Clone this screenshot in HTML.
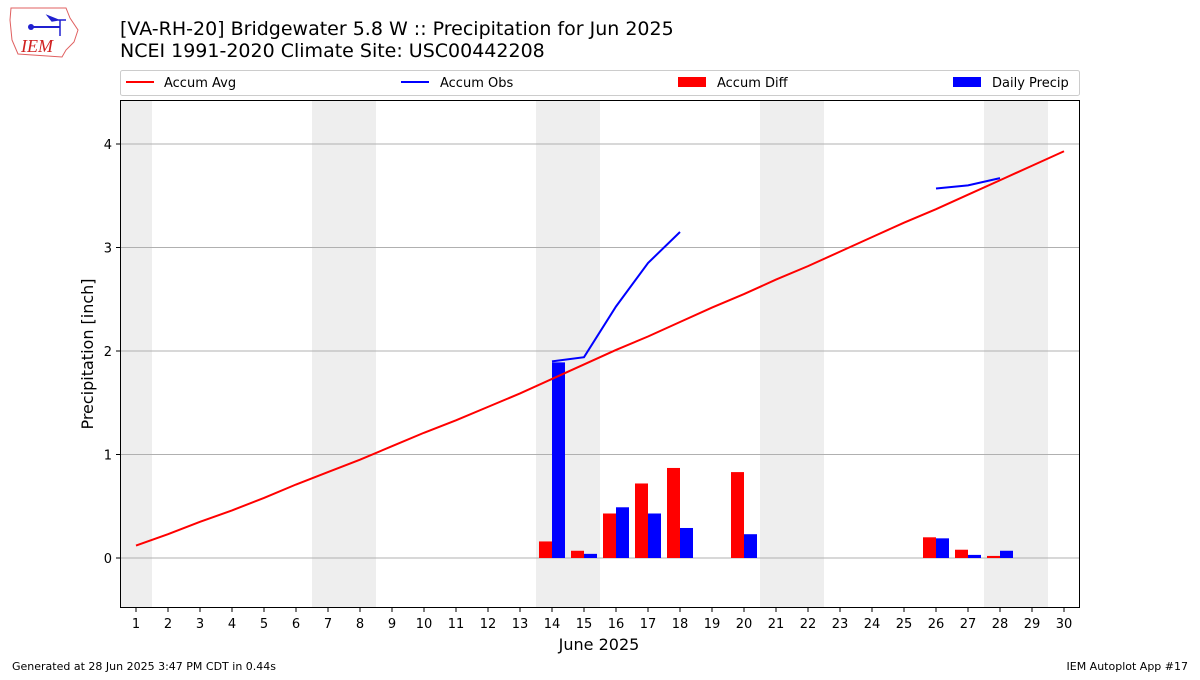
<!DOCTYPE html>
<html><head><meta charset="utf-8"><style>
body{margin:0;background:#fff;font-family:"Liberation Sans","DejaVu Sans",sans-serif;}
svg text{font-family:"DejaVu Sans","Liberation Sans",sans-serif;}
</style></head><body>
<svg id="c" width="1200" height="675" viewBox="0 0 1200 675" xmlns="http://www.w3.org/2000/svg">
<g>
<path d="M11,8 L66,8 L70,18 L78,30 L74,42 L66,50 L62,57 L18,54 L12,40 L10,20 Z" fill="none" stroke="#e06060" stroke-width="1"/>
<line x1="30" y1="27" x2="60" y2="27" stroke="#2020d0" stroke-width="2"/>
<circle cx="31" cy="27" r="3" fill="#2020d0"/>
<path d="M48,16 L58,20 L52,21 Z M58,20 L66,20 M60,20 L60,36" stroke="#2020d0" fill="#2020d0" stroke-width="1.5"/>
<text x="21" y="52" style="font-family:'Liberation Serif',serif;font-style:italic" font-size="18" fill="#d02020">IEM</text>
</g>
<text x="120" y="35" font-size="19" fill="#000">[VA-RH-20] Bridgewater 5.8 W :: Precipitation for Jun 2025</text>
<text x="120" y="57" font-size="19" fill="#000">NCEI 1991-2020 Climate Site: USC00442208</text>
<g>
<rect x="120.5" y="70.5" width="959" height="25" fill="#fff" stroke="#ccc" rx="2"/>
<g><line x1="126" y1="82" x2="154" y2="82" stroke="red" stroke-width="2"/><text x="164" y="87" font-size="13">Accum Avg</text></g>
<g><line x1="401" y1="82" x2="429" y2="82" stroke="blue" stroke-width="2"/><text x="440" y="87" font-size="13">Accum Obs</text></g>
<g><rect x="678" y="77" width="28" height="10" fill="red"/><text x="717" y="87" font-size="13">Accum Diff</text></g>
<g><rect x="953" y="77" width="28" height="10" fill="blue"/><text x="992" y="87" font-size="13">Daily Precip</text></g>
</g>
<g id="plot"></g>
<text x="599" y="650" font-size="16" text-anchor="middle">June 2025</text>
<text transform="translate(93,354) rotate(-90)" font-size="16" text-anchor="middle">Precipitation [inch]</text>
<text x="12" y="670" font-size="11">Generated at 28 Jun 2025 3:47 PM CDT in 0.44s</text>
<text x="1188" y="670" font-size="11" text-anchor="end">IEM Autoplot App #17</text>
</svg>
<script>
const days = Array.from({length:30},(_,i)=>i+1);
const weekendDays = [1,7,8,14,15,21,22,28,29];
const accumAvg = [0.12,0.23,0.35,0.46,0.58,0.71,0.83,0.95,1.08,1.21,1.33,1.46,1.59,1.73,1.87,2.01,2.14,2.28,2.42,2.55,2.69,2.82,2.96,3.10,3.24,3.37,3.51,3.65,3.79,3.93];
const obsSeg1Days = [14,15,16,17,18];
const obsSeg1 = [1.90,1.94,2.43,2.85,3.15];
const obsSeg2Days = [26,27,28];
const obsSeg2 = [3.57,3.60,3.67];
const barDays = [14,15,16,17,18,20,26,27,28];
const dailyPrecip = [1.89,0.04,0.49,0.43,0.29,0.23,0.19,0.03,0.07];
const accumDiff = [0.16,0.07,0.43,0.72,0.87,0.83,0.20,0.08,0.02];
const yTicks = [0,1,2,3,4];

const NS="http://www.w3.org/2000/svg";
const L=120,R=1080,T=100,B=608;
const xs=d=>136+(d-1)*32;
const ys=v=>558-v*103.5;
const g=document.getElementById('plot');
function mk(tag,attrs,parent){const e=document.createElementNS(NS,tag);for(const k in attrs)e.setAttribute(k,attrs[k]);(parent||g).appendChild(e);return e;}

weekendDays.forEach(d=>{
  const x0=Math.max(L,xs(d)-16), x1=Math.min(R,xs(d)+16);
  const r=mk('rect',{x:x0,y:T,width:x1-x0,height:B-T,fill:'#eeeeee'});
  
  
});
yTicks.forEach(v=>{
  const l=mk('line',{x1:L,x2:R,y1:ys(v),y2:ys(v),stroke:'#b0b0b0','stroke-width':1});
  
  
  mk('line',{x1:L-4,x2:L,y1:ys(v),y2:ys(v),stroke:'#000'});
  const t=mk('text',{x:L-8,y:ys(v)+5,'font-size':13,'text-anchor':'end'});
  t.textContent=v;
  
  
});
days.forEach(d=>{
  mk('line',{x1:xs(d),x2:xs(d),y1:B,y2:B+4,stroke:'#000'});
  const t=mk('text',{x:xs(d),y:B+20,'font-size':13,'text-anchor':'middle'});
  t.textContent=d;
  
  
});
barDays.forEach((d,i)=>{
  const a=accumDiff[i], p=dailyPrecip[i];
  const r1=mk('rect',{x:xs(d)-13,y:Math.min(ys(a),ys(0)),width:13,height:Math.abs(ys(a)-ys(0)),fill:'red'});
  
  
  const r2=mk('rect',{x:xs(d),y:Math.min(ys(p),ys(0)),width:13,height:Math.abs(ys(p)-ys(0)),fill:'blue'});
  
  
});
const avg=mk('polyline',{points:days.map((d,i)=>xs(d)+','+ys(accumAvg[i])).join(' '),fill:'none',stroke:'red','stroke-width':2});


[[obsSeg1Days,obsSeg1],[obsSeg2Days,obsSeg2]].forEach(([dd,vv])=>{
  const o=mk('polyline',{points:dd.map((d,i)=>xs(d)+','+ys(vv[i])).join(' '),fill:'none',stroke:'blue','stroke-width':2});
  
  
});
const fr=mk('rect',{x:L+0.5,y:T+0.5,width:R-L-1,height:B-T-1,fill:'none',stroke:'#000','stroke-width':1});


</script>
</body></html>
